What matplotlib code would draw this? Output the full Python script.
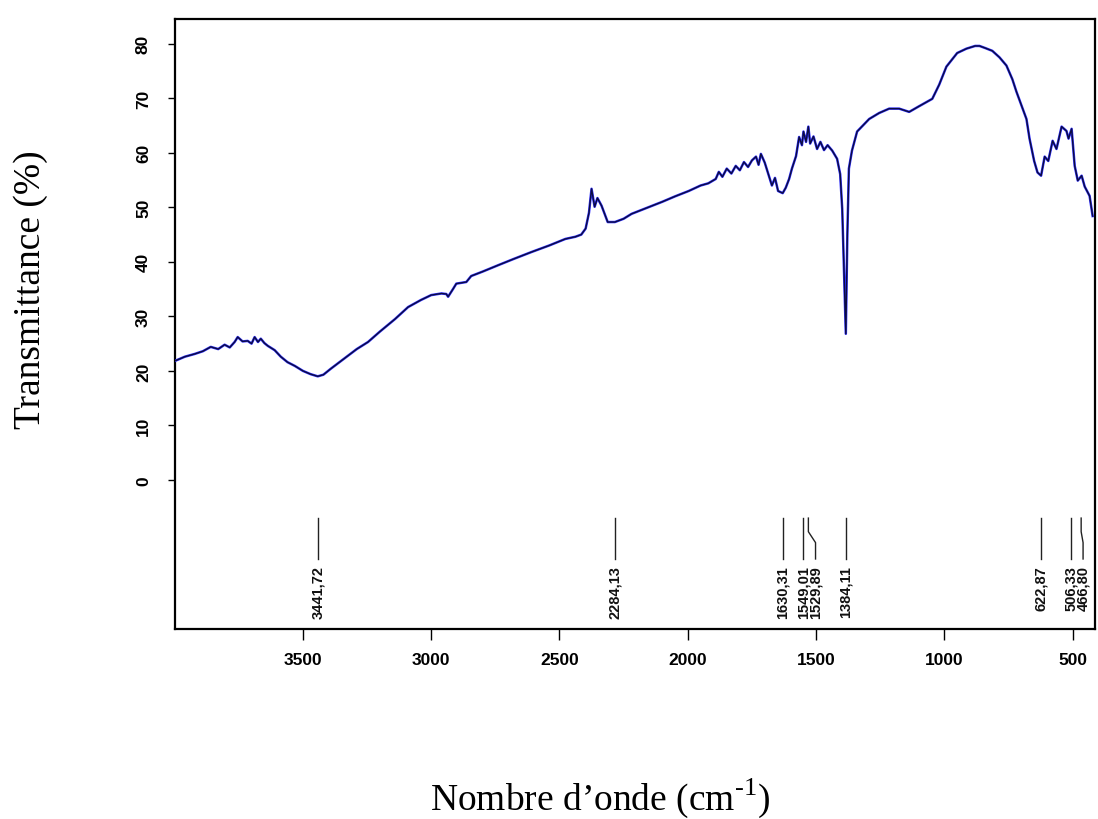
import numpy as np
import matplotlib
matplotlib.use("Agg")
from matplotlib import pyplot as plt

plt.rcParams['font.family'] = ['Liberation Sans', 'DejaVu Sans']
plt.rcParams['mathtext.fontset'] = 'custom'
plt.rcParams['mathtext.rm'] = 'Liberation Serif'

# FTIR spectrum: wavenumber (cm-1) and transmittance (%)
wavenumber = [4000, 3960, 3922, 3890, 3859, 3830, 3805, 3785, 3766, 3754, 3735,
              3715, 3700, 3688, 3675, 3664, 3650, 3637, 3610, 3586, 3560, 3531,
              3500, 3470, 3442, 3420, 3391, 3360, 3324, 3290, 3246, 3200, 3141,
              3090, 3040, 3000, 2960, 2941, 2934, 2915, 2902, 2863, 2844, 2800,
              2738, 2680, 2609, 2540, 2477, 2438, 2415, 2398, 2385, 2375, 2363,
              2352, 2336, 2312, 2284, 2250, 2219, 2160, 2100, 2050, 1996, 1950,
              1920, 1891, 1879, 1865, 1848, 1830, 1813, 1797, 1781, 1765, 1750,
              1734, 1724, 1715, 1700, 1684, 1672, 1660, 1648, 1630, 1618, 1605,
              1594, 1578, 1566, 1555, 1549, 1539, 1530, 1523, 1510, 1496, 1483,
              1469, 1455, 1437, 1418, 1406, 1398, 1392, 1384, 1378, 1372, 1360,
              1340, 1293, 1254, 1215, 1176, 1137, 1100, 1047, 1020, 992, 950,
              914, 880, 863, 840, 813, 785, 758, 735, 719, 695, 680, 668, 650,
              637, 623, 609, 595, 578, 563, 543, 524, 516, 504, 492, 480, 465,
              453, 434, 422]
transmittance = [21.8, 22.6, 23.1, 23.6, 24.4, 24.0, 24.8, 24.3, 25.3, 26.2, 25.4,
                 25.5, 25.0, 26.2, 25.3, 25.9, 25.1, 24.6, 23.8, 22.6, 21.6, 20.9,
                 20.0, 19.4, 19.0, 19.3, 20.4, 21.5, 22.8, 24.0, 25.3, 27.2, 29.5,
                 31.7, 33.0, 33.9, 34.2, 34.1, 33.6, 35.0, 36.0, 36.3, 37.4, 38.2,
                 39.4, 40.5, 41.8, 43.0, 44.2, 44.6, 45.0, 46.1, 49.0, 53.4, 50.1,
                 51.7, 50.3, 47.3, 47.3, 47.9, 48.8, 49.9, 51.0, 52.0, 53.0, 54.0,
                 54.4, 55.2, 56.5, 55.6, 57.1, 56.2, 57.6, 56.8, 58.3, 57.4, 58.6,
                 59.3, 57.8, 59.8, 58.2, 55.8, 54.0, 55.4, 53.0, 52.6, 53.6, 55.2,
                 57.1, 59.4, 62.9, 61.4, 63.9, 62.0, 64.8, 61.7, 63.0, 60.7, 62.0,
                 60.5, 61.4, 60.4, 58.9, 56.1, 49.7, 40.0, 26.8, 45.0, 57.1, 60.4,
                 63.9, 66.2, 67.3, 68.1, 68.1, 67.5, 68.5, 69.9, 72.5, 75.8, 78.3,
                 79.1, 79.6, 79.6, 79.2, 78.7, 77.5, 76.0, 73.5, 71.2, 68.1, 66.2,
                 62.6, 58.5, 56.4, 55.8, 59.3, 58.5, 62.2, 60.7, 64.8, 64.0, 62.6,
                 64.4, 57.6, 54.9, 55.8, 53.8, 52.1, 48.4]

# peak picks printed under the spectrum
peaks = [3441.72, 2284.13, 1630.31, 1549.01, 1529.89, 1384.11, 622.87, 506.33, 466.80]
peak_labels = ['3441,72', '2284,13', '1630,31', '1549,01', '1529,89', '1384,11',
               '622,87', '506,33', '466,80']

x_ticks = [3500, 3000, 2500, 2000, 1500, 1000, 500]
y_ticks = [0, 10, 20, 30, 40, 50, 60, 70, 80]

fig = plt.figure(figsize=(10.98, 8.2), dpi=100)
ax = fig.add_axes([0.159, 0.232, 0.838, 0.744])

ax.plot(wavenumber, transmittance, color='#3030ff', lw=1.8, zorder=3)
ax.plot(wavenumber, transmittance, color='black', lw=1.0, alpha=0.75, zorder=4)

# spread labels that would collide
label_x = []
for i, p in enumerate(peaks):
    if i == 0:
        label_x.append(p)
    else:
        label_x.append(min(p, label_x[-1] - 47))

for p, lx, lab in zip(peaks, label_x, peak_labels):
    if abs(p - lx) > 1:
        ax.plot([p, p, lx, lx], [-7, -9.5, -11.5, -14.5], color='#222222', lw=1.0)
    else:
        ax.plot([p, p], [-7, -14.5], color='#222222', lw=1.0)
    ax.text(lx, -15.6, lab, rotation=90, ha='center', va='top', fontsize=10.5,
            fontweight='bold', color='#111111')

ax.set_xlim(4000, 414)
ax.set_ylim(-27.3, 84.6)
ax.set_xticks(x_ticks)
ax.set_yticks(y_ticks)
ax.set_xticklabels([str(t) for t in x_ticks], fontsize=12.5, fontweight='bold')
ax.set_yticklabels([str(t) for t in y_ticks], fontsize=12.5, fontweight='bold',
                   rotation=90, va='center')
ax.tick_params(axis='x', direction='out', length=8, width=1.0, pad=9)
ax.tick_params(axis='y', direction='out', length=5, width=1.0, pad=12)
for s in ax.spines.values():
    s.set_linewidth(1.6)

fig.text(0.028, 0.647, 'Transmittance (%)', rotation=90, ha='center', va='center',
         fontsize=27, family='Liberation Serif')
fig.text(0.547, 0.027, r'Nombre d’onde (cm$^{\text{-}1}$)', ha='center', va='center',
         fontsize=27, family='Liberation Serif')

fig.savefig('out.png', dpi=100)
